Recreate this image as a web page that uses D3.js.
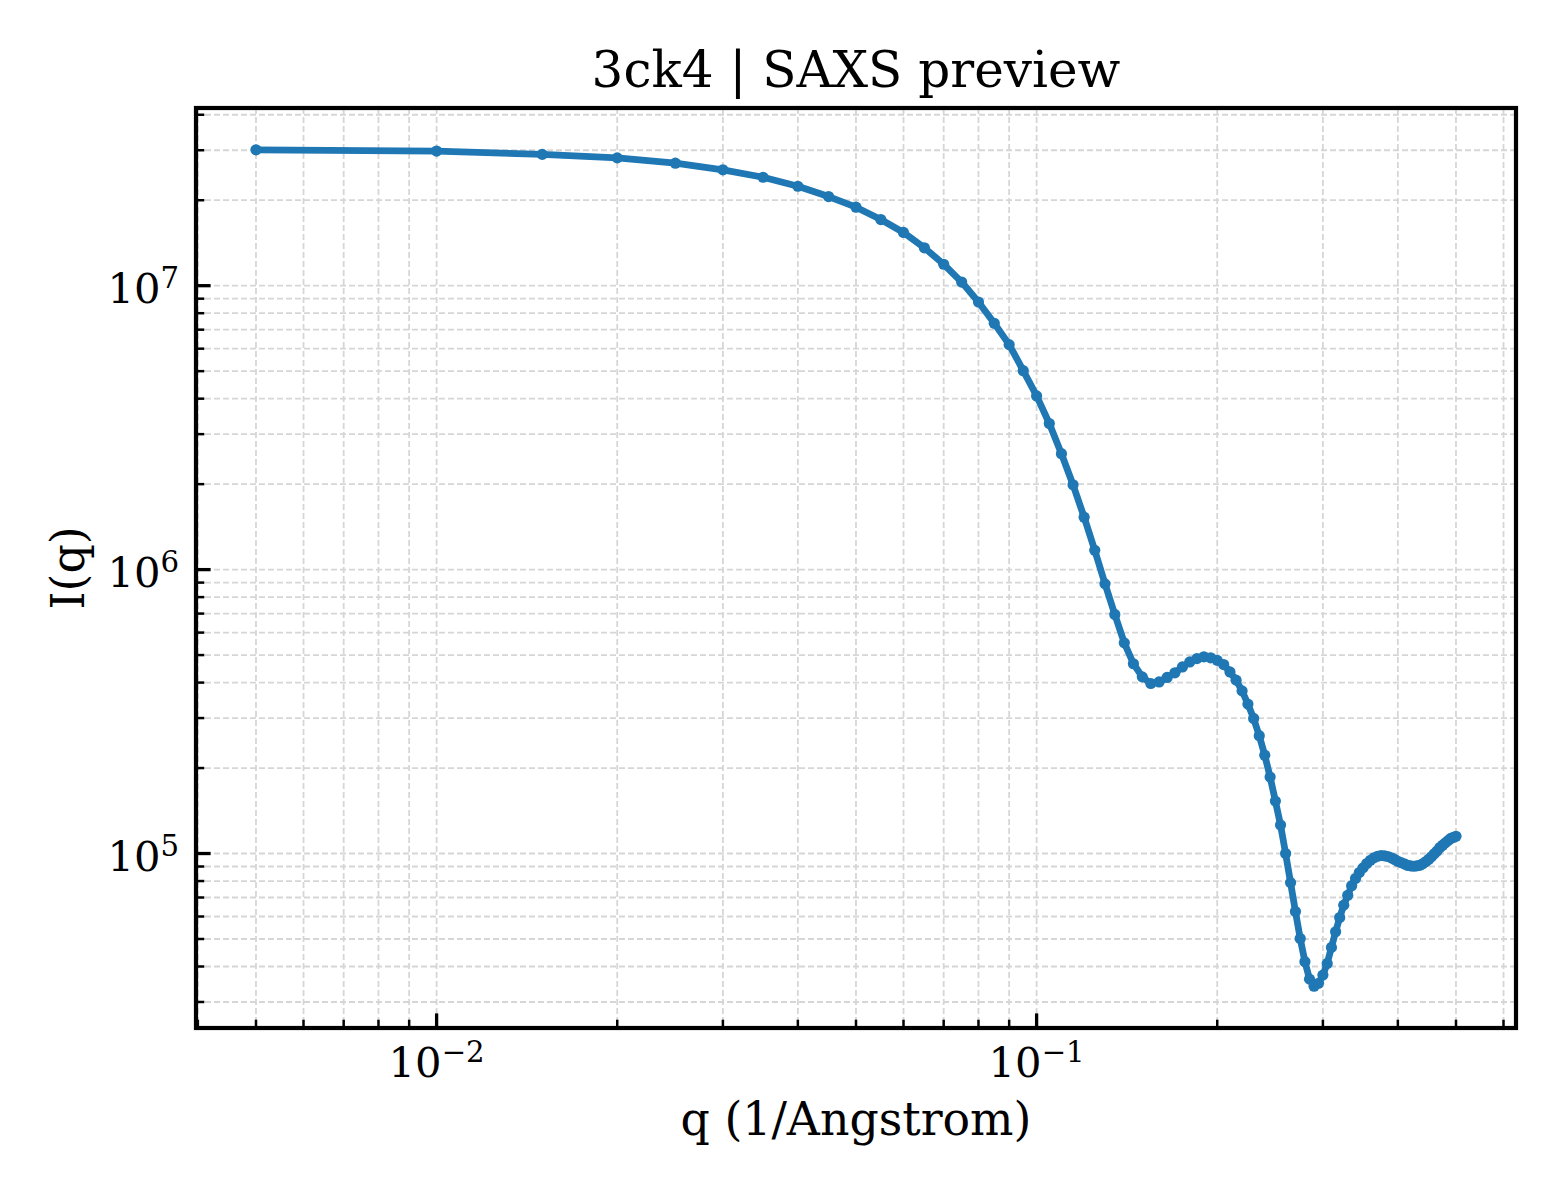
<!DOCTYPE html>
<html>
<head>
<meta charset="utf-8">
<script src="https://cdn.jsdelivr.net/npm/d3@7"></script>
<style>
  html, body { margin: 0; padding: 0; background: #ffffff; }
  svg { display: block; }
  text { font-family: "DejaVu Serif", serif; fill: #000; }
</style>
</head>
<body>
<svg id="chart" width="1560" height="1200"></svg>
<script>
// ---- data ----
const titleText = "3ck4 | SAXS preview";
const xLabelText = "q (1/Angstrom)";
const yLabelText = "I(q)";

const q = [
  0.005, 0.010, 0.015, 0.020, 0.025, 0.030, 0.035, 0.040, 0.045, 0.050,
  0.055, 0.060, 0.065, 0.070, 0.075, 0.080, 0.085, 0.090, 0.095, 0.100,
  0.105, 0.110, 0.115, 0.120, 0.125, 0.130, 0.135, 0.140, 0.145, 0.150,
  0.155, 0.160, 0.165, 0.170, 0.175, 0.180, 0.185, 0.190, 0.195, 0.200,
  0.205, 0.210, 0.215, 0.220, 0.225, 0.230, 0.235, 0.240, 0.245, 0.250,
  0.255, 0.260, 0.265, 0.270, 0.275, 0.280, 0.285, 0.290, 0.295, 0.300,
  0.305, 0.310, 0.315, 0.320, 0.325, 0.330, 0.335, 0.340, 0.345, 0.350,
  0.355, 0.360, 0.365, 0.370, 0.375, 0.380, 0.385, 0.390, 0.395, 0.400,
  0.405, 0.410, 0.415, 0.420, 0.425, 0.430, 0.435, 0.440, 0.445, 0.450,
  0.455, 0.460, 0.465, 0.470, 0.475, 0.480, 0.485, 0.490, 0.495, 0.500
];

const intensity = [
  3.01e7, 2.98e7, 2.90e7, 2.82e7, 2.70e7, 2.56e7, 2.41e7, 2.24e7, 2.06e7, 1.89e7,
  1.71e7, 1.54e7, 1.36e7, 1.19e7, 1.03e7, 8.76e6, 7.37e6, 6.20e6, 5.02e6, 4.09e6,
  3.27e6, 2.56e6, 1.99e6, 1.53e6, 1.17e6, 8.91e5, 6.95e5, 5.52e5, 4.66e5, 4.19e5,
  3.97e5, 4.02e5, 4.17e5, 4.33e5, 4.54e5, 4.73e5, 4.86e5, 4.93e5, 4.89e5, 4.79e5,
  4.63e5, 4.36e5, 4.08e5, 3.74e5, 3.36e5, 2.99e5, 2.60e5, 2.22e5, 1.86e5, 1.53e5,
  1.26e5, 1.00e5, 7.90e4, 6.25e4, 5.02e4, 4.16e4, 3.61e4, 3.41e4, 3.49e4, 3.73e4,
  4.10e4, 4.67e4, 5.30e4, 5.95e4, 6.58e4, 7.13e4, 7.70e4, 8.17e4, 8.57e4, 8.90e4,
  9.22e4, 9.47e4, 9.66e4, 9.78e4, 9.84e4, 9.81e4, 9.76e4, 9.66e4, 9.53e4, 9.39e4,
  9.29e4, 9.20e4, 9.09e4, 9.05e4, 9.02e4, 9.05e4, 9.09e4, 9.20e4, 9.35e4, 9.53e4,
  9.74e4, 9.98e4, 1.02e5, 1.05e5, 1.07e5, 1.09e5, 1.11e5, 1.13e5, 1.14e5, 1.15e5
];

const xMajorTicks = [0.01, 0.1];
const xMajorExp = ["\u22122", "\u22121"];
const yMajorTicks = [1e5, 1e6, 1e7];
const yMajorExp = ["5", "6", "7"];

// ---- layout ----
const pL = 196, pR = 1516, pT = 108, pB = 1028;
const svg = d3.select("#chart");

function logDomain(vals) {
  const lo = Math.log10(d3.min(vals)), hi = Math.log10(d3.max(vals));
  const m = (hi - lo) * 0.05;
  return [Math.pow(10, lo - m), Math.pow(10, hi + m)];
}

const x = d3.scaleLog().domain(logDomain(q)).range([pL, pR]);
const y = d3.scaleLog().domain(logDomain(intensity)).range([pB, pT]);

function allLogTicks(scale) {
  const [a, b] = scale.domain();
  const out = [];
  for (let e = Math.floor(Math.log10(a)); e <= Math.ceil(Math.log10(b)); e++) {
    for (let m = 1; m <= 9; m++) {
      const v = m * Math.pow(10, e);
      if (v >= a && v <= b) out.push({ v, major: m === 1 });
    }
  }
  return out;
}
const xTicks = allLogTicks(x);
const yTicks = allLogTicks(y);

// ---- grid ----
const grid = svg.append("g").attr("class", "grid");
grid.selectAll("line.gx").data(xTicks).join("line")
  .attr("x1", d => x(d.v)).attr("x2", d => x(d.v))
  .attr("y1", pT).attr("y2", pB)
  .attr("stroke", "#d6d6d6").attr("stroke-width", 1.8)
  .attr("stroke-dasharray", "6,3");
grid.selectAll("line.gy").data(yTicks).join("line")
  .attr("y1", d => y(d.v)).attr("y2", d => y(d.v))
  .attr("x1", pL).attr("x2", pR)
  .attr("stroke", "#d6d6d6").attr("stroke-width", 1.8)
  .attr("stroke-dasharray", "6,3");

// ---- data line + markers ----
const pts = q.map((v, i) => [v, intensity[i]]);
svg.append("path")
  .datum(pts)
  .attr("fill", "none")
  .attr("stroke", "#1f77b4")
  .attr("stroke-width", 6.8)
  .attr("stroke-linejoin", "round")
  .attr("stroke-linecap", "round")
  .attr("d", d3.line().x(d => x(d[0])).y(d => y(d[1])));
svg.append("g").selectAll("circle").data(pts).join("circle")
  .attr("cx", d => x(d[0])).attr("cy", d => y(d[1]))
  .attr("r", 5.6).attr("fill", "#1f77b4");

// ---- ticks (inward, left & bottom) ----
const tk = svg.append("g");
tk.selectAll("line.tx").data(xTicks).join("line")
  .attr("x1", d => x(d.v)).attr("x2", d => x(d.v))
  .attr("y1", pB).attr("y2", d => pB - (d.major ? 14.6 : 8.3))
  .attr("stroke", "#000").attr("stroke-width", d => d.major ? 3.3 : 2.5);
tk.selectAll("line.ty").data(yTicks).join("line")
  .attr("y1", d => y(d.v)).attr("y2", d => y(d.v))
  .attr("x1", pL).attr("x2", d => pL + (d.major ? 14.6 : 8.3))
  .attr("stroke", "#000").attr("stroke-width", d => d.major ? 3.3 : 2.5);

// ---- frame ----
svg.append("rect")
  .attr("x", pL).attr("y", pT)
  .attr("width", pR - pL).attr("height", pB - pT)
  .attr("fill", "none").attr("stroke", "#000").attr("stroke-width", 4.2);

// ---- tick labels ----
const baseFS = 41.7, supFS = 29.2, supRaise = 15;
const xl = svg.append("g");
xMajorTicks.forEach((v, i) => {
  const t = xl.append("text")
    .attr("x", x(v)).attr("y", 1077)
    .attr("text-anchor", "middle")
    .attr("font-size", baseFS);
  t.append("tspan").text("10");
  t.append("tspan").attr("font-size", supFS).attr("dy", -supRaise).text(xMajorExp[i]);
});
yMajorTicks.forEach((v, i) => {
  const t = xl.append("text")
    .attr("x", 179).attr("y", y(v) + 17.5)
    .attr("text-anchor", "end")
    .attr("font-size", baseFS);
  t.append("tspan").text("10");
  t.append("tspan").attr("font-size", supFS).attr("dy", -supRaise).text(yMajorExp[i]);
});

// ---- title and axis labels ----
svg.append("text")
  .attr("x", (pL + pR) / 2).attr("y", 87)
  .attr("text-anchor", "middle").attr("font-size", 50)
  .text(titleText);
svg.append("text")
  .attr("x", (pL + pR) / 2).attr("y", 1135)
  .attr("text-anchor", "middle").attr("font-size", 45.8)
  .text(xLabelText);
svg.append("text")
  .attr("transform", `translate(84,${(pT + pB) / 2}) rotate(-90)`)
  .attr("text-anchor", "middle").attr("font-size", 45.8)
  .text(yLabelText);
</script>
</body>
</html>
